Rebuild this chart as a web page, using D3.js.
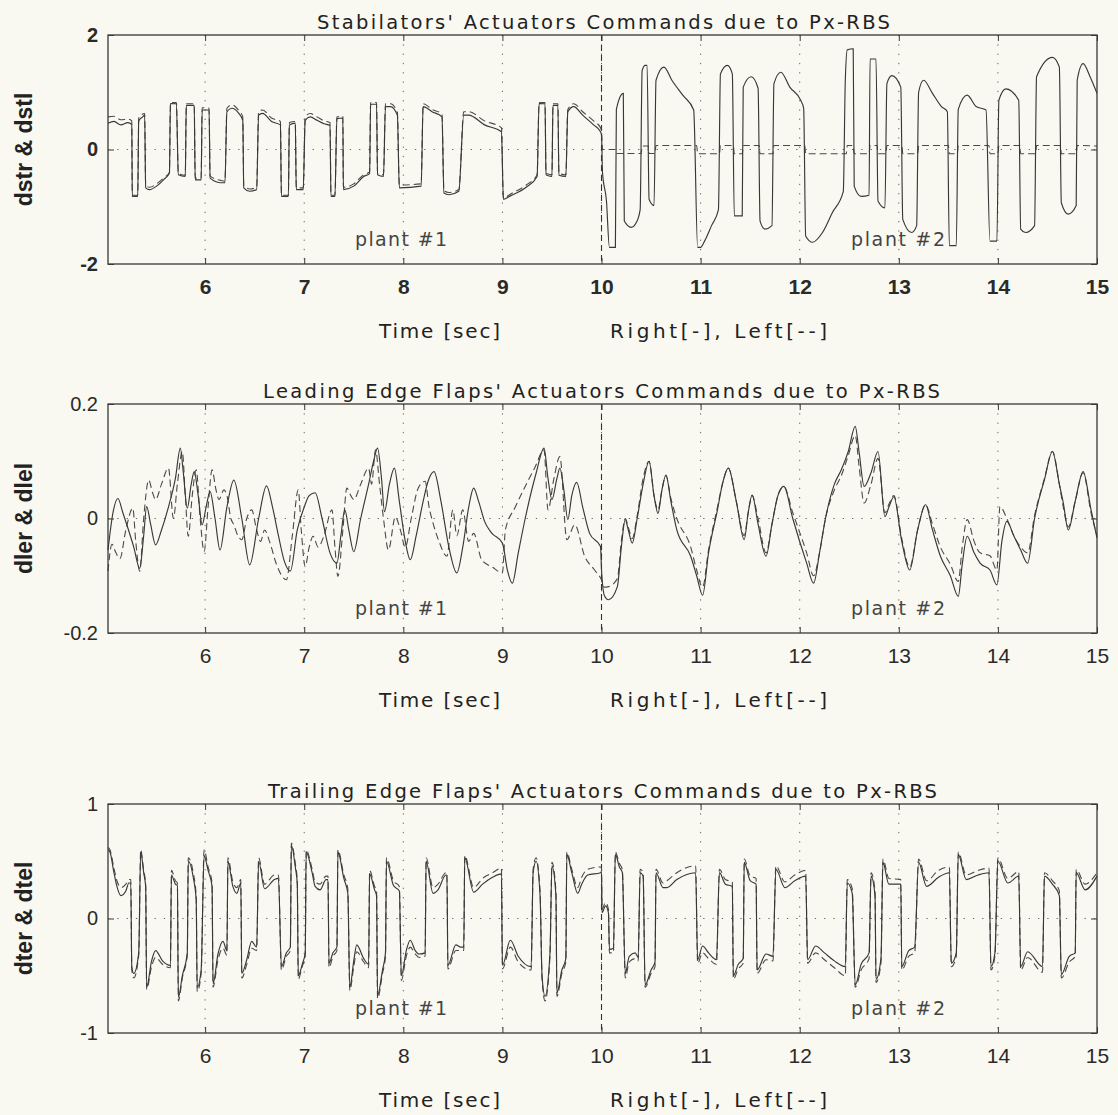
<!DOCTYPE html>
<html><head><meta charset="utf-8">
<script src="https://cdn.jsdelivr.net/npm/d3@7"></script>
<style>body{margin:0;background:#f9f9f1;} svg{display:block}</style>
</head><body>
<svg id="c" width="1118" height="1115"></svg>
<script>
// ---------- text / ticks ----------
const titles = [
  "Stabilators' Actuators Commands due to Px-RBS",
  "Leading Edge Flaps' Actuators Commands due to Px-RBS",
  "Trailing Edge Flaps' Actuators Commands due to Px-RBS"
];
const yLabels = ["dstr & dstl", "dler & dlel", "dter & dtel"];
const xTicks = [6, 7, 8, 9, 10, 11, 12, 13, 14, 15];
const gridTimes = [6, 7, 8, 9, 10, 11, 12, 13, 14];
const stabTicks = [-2, 0, 2];
const stabTickLabels = ["-2", "0", "2"];
const leTicks = [-0.2, 0, 0.2];
const leTickLabels = ["-0.2", "0", "0.2"];
const teTicks = [-1, 0, 1];
const teTickLabels = ["-1", "0", "1"];
const xLabel1 = "Time [sec]";
const xLabel2 = "Right[-], Left[--]";
const plantLabels = ["plant #1", "plant #2"];
const splitTime = 10;

// ---------- series: [time, value] ----------
const stabRight = [[5.02,0.46],[5.08,0.49],[5.15,0.43],[5.22,0.47],[5.26,0.44],[5.265,-0.82],[5.32,-0.82],[5.33,0.5],[5.37,0.57],[5.39,0.6],[5.40,-0.67],[5.44,-0.70],[5.51,-0.64],[5.58,-0.53],[5.64,-0.41],[5.65,0.8],[5.71,0.8],[5.73,-0.44],[5.80,-0.47],[5.81,0.77],[5.89,0.77],[5.90,-0.53],[5.96,-0.53],[5.97,0.69],[6.04,0.69],[6.05,-0.5],[6.16,-0.58],[6.20,-0.58],[6.22,0.66],[6.27,0.72],[6.34,0.63],[6.38,0.51],[6.39,-0.67],[6.45,-0.73],[6.52,-0.70],[6.54,0.60],[6.58,0.63],[6.67,0.49],[6.76,0.43],[6.77,-0.82],[6.84,-0.82],[6.85,0.43],[6.91,0.46],[6.92,-0.70],[6.99,-0.70],[7.01,0.51],[7.06,0.57],[7.13,0.51],[7.20,0.45],[7.26,0.42],[7.27,-0.82],[7.31,-0.82],[7.33,0.54],[7.39,0.55],[7.395,-0.70],[7.50,-0.64],[7.60,-0.47],[7.66,-0.42],[7.67,0.79],[7.73,0.79],[7.74,-0.44],[7.80,-0.47],[7.82,0.75],[7.87,0.75],[7.94,0.60],[7.96,-0.67],[8.18,-0.64],[8.20,0.75],[8.29,0.66],[8.39,0.57],[8.41,-0.76],[8.46,-0.79],[8.56,-0.73],[8.61,0.60],[8.66,0.60],[8.82,0.43],[8.99,0.31],[9.01,-0.87],[9.08,-0.81],[9.24,-0.66],[9.35,-0.47],[9.37,0.80],[9.43,0.80],[9.44,-0.44],[9.50,-0.47],[9.51,0.77],[9.56,0.77],[9.57,-0.45],[9.64,-0.47],[9.66,0.66],[9.72,0.75],[9.81,0.60],[9.92,0.43],[9.99,0.31],
[10.00,0.25],[10.01,-0.4],[10.05,-0.9],[10.08,-1.71],[10.14,-1.71],[10.15,0.7],[10.22,0.98],[10.23,-1.25],[10.30,-1.36],[10.35,-1.28],[10.39,-1.05],[10.41,1.38],[10.44,1.47],[10.46,1.47],[10.48,-0.87],[10.53,-0.98],[10.55,1.21],[10.63,1.44],[10.71,1.21],[10.82,0.95],[10.93,0.69],[10.97,-1.71],[11.00,-1.71],[11.04,-1.6],[11.11,-1.33],[11.18,-1.05],[11.20,1.32],[11.27,1.47],[11.32,1.32],[11.34,-1.16],[11.42,-1.16],[11.43,1.09],[11.51,1.27],[11.58,1.07],[11.60,-1.25],[11.65,-1.39],[11.72,-1.33],[11.74,1.15],[11.81,1.35],[11.90,1.09],[12.01,0.86],[12.04,0.72],[12.06,-1.51],[12.13,-1.62],[12.23,-1.45],[12.33,-1.1],[12.44,-0.73],[12.46,1.2],[12.48,1.74],[12.54,1.76],[12.55,-0.64],[12.62,-0.82],[12.70,-0.80],[12.71,1.58],[12.77,1.58],[12.79,-0.9],[12.86,-1.02],[12.88,1.15],[12.93,1.29],[13.02,1.09],[13.04,-1.22],[13.13,-1.45],[13.18,-1.33],[13.20,1.0],[13.25,1.21],[13.34,0.98],[13.43,0.75],[13.49,0.66],[13.51,-1.68],[13.58,-1.68],[13.60,0.7],[13.69,0.95],[13.78,0.75],[13.88,0.69],[13.92,-1.6],[13.99,-1.6],[14.01,0.86],[14.08,1.06],[14.21,0.86],[14.23,-1.39],[14.28,-1.45],[14.37,-1.33],[14.39,1.27],[14.55,1.61],[14.62,1.44],[14.64,-0.93],[14.71,-1.13],[14.79,-0.98],[14.80,1.21],[14.86,1.5],[14.93,1.27],[15.00,0.98]];

const stabLeft = [[5.02,0.57],[5.08,0.58],[5.15,0.52],[5.22,0.53],[5.26,0.5],[5.265,-0.8],[5.32,-0.8],[5.33,0.55],[5.39,0.63],[5.40,-0.62],[5.44,-0.66],[5.51,-0.6],[5.58,-0.5],[5.64,-0.4],[5.65,0.82],[5.71,0.82],[5.73,-0.42],[5.80,-0.45],[5.81,0.8],[5.89,0.8],[5.90,-0.5],[5.96,-0.5],[5.97,0.73],[6.04,0.72],[6.05,-0.46],[6.16,-0.54],[6.20,-0.55],[6.22,0.72],[6.27,0.78],[6.34,0.68],[6.38,0.57],[6.39,-0.63],[6.45,-0.69],[6.52,-0.66],[6.54,0.66],[6.58,0.69],[6.67,0.55],[6.76,0.49],[6.77,-0.8],[6.84,-0.8],[6.85,0.47],[6.91,0.49],[6.92,-0.67],[6.99,-0.67],[7.01,0.57],[7.06,0.63],[7.13,0.57],[7.20,0.5],[7.26,0.47],[7.27,-0.8],[7.31,-0.8],[7.33,0.57],[7.39,0.58],[7.395,-0.66],[7.50,-0.6],[7.60,-0.44],[7.66,-0.39],[7.67,0.82],[7.73,0.82],[7.74,-0.42],[7.80,-0.44],[7.82,0.8],[7.87,0.8],[7.94,0.65],[7.96,-0.62],[8.18,-0.6],[8.20,0.8],[8.29,0.7],[8.39,0.62],[8.41,-0.72],[8.46,-0.75],[8.56,-0.7],[8.61,0.66],[8.66,0.66],[8.82,0.5],[8.99,0.38],[9.01,-0.85],[9.08,-0.78],[9.24,-0.62],[9.35,-0.44],[9.37,0.82],[9.43,0.82],[9.44,-0.42],[9.50,-0.44],[9.51,0.8],[9.56,0.8],[9.57,-0.42],[9.64,-0.44],[9.66,0.7],[9.72,0.8],[9.81,0.66],[9.92,0.5],[9.99,0.38],
[10.00,0.3],[10.01,0.0],[10.14,0.0],[10.15,-0.07],[10.40,-0.07],[10.41,0.06],[10.47,0.06],[10.48,-0.07],[10.54,-0.07],[10.55,0.07],[10.96,0.07],[10.97,-0.075],[11.19,-0.075],[11.20,0.07],[11.33,0.07],[11.34,-0.075],[11.42,-0.075],[11.43,0.07],[11.59,0.07],[11.60,-0.075],[11.73,-0.075],[11.74,0.07],[12.05,0.07],[12.06,-0.075],[12.47,-0.075],[12.48,0.07],[12.54,0.07],[12.55,-0.075],[12.70,-0.075],[12.71,0.07],[12.78,0.07],[12.79,-0.075],[12.87,-0.075],[12.88,0.07],[13.03,0.07],[13.04,-0.075],[13.19,-0.075],[13.20,0.07],[13.50,0.07],[13.51,-0.075],[13.59,-0.075],[13.60,0.07],[13.91,0.07],[13.92,-0.075],[14.00,-0.075],[14.01,0.07],[14.22,0.07],[14.23,-0.075],[14.38,-0.075],[14.39,0.07],[14.63,0.07],[14.64,-0.075],[14.79,-0.075],[14.80,0.07],[15.00,0.06]];

const leRight = [[5.02,-0.055],[5.07,0.01],[5.12,0.035],[5.17,0.01],[5.21,-0.011],[5.28,-0.05],[5.34,-0.087],[5.38,-0.03],[5.41,0.021],[5.45,-0.01],[5.50,-0.046],[5.56,-0.02],[5.63,0.02],[5.70,0.07],[5.75,0.123],[5.78,0.08],[5.82,0.018],[5.86,0.06],[5.89,0.082],[5.93,0.04],[5.97,-0.011],[6.01,0.02],[6.05,0.047],[6.10,0.0],[6.15,-0.055],[6.22,0.02],[6.29,0.067],[6.37,0.0],[6.45,-0.081],[6.54,0.0],[6.62,0.057],[6.68,0.02],[6.74,-0.03],[6.80,-0.075],[6.86,-0.092],[6.93,-0.02],[7.00,0.02],[7.05,0.04],[7.11,0.045],[7.18,0.0],[7.26,-0.06],[7.33,-0.078],[7.37,-0.03],[7.41,0.015],[7.45,-0.02],[7.50,-0.058],[7.57,0.0],[7.65,0.06],[7.70,0.1],[7.74,0.123],[7.78,0.07],[7.81,0.012],[7.86,0.06],[7.91,0.088],[7.96,0.03],[8.02,-0.04],[8.07,-0.072],[8.13,-0.03],[8.20,0.03],[8.25,0.065],[8.31,0.082],[8.38,0.03],[8.46,-0.05],[8.54,-0.095],[8.60,-0.05],[8.66,0.02],[8.71,0.053],[8.76,0.03],[8.82,-0.005],[8.89,-0.025],[9.0,-0.043],[9.05,-0.09],[9.10,-0.113],[9.16,-0.06],[9.23,0.0],[9.34,0.079],[9.42,0.123],[9.46,0.07],[9.50,0.033],[9.55,0.07],[9.58,0.088],[9.62,0.05],[9.66,-0.002],[9.70,0.04],[9.75,0.063],[9.81,0.02],[9.88,-0.026],[9.99,-0.049],
[10.0,-0.09],[10.03,-0.135],[10.07,-0.142],[10.16,-0.119],[10.20,-0.05],[10.24,-0.002],[10.27,-0.02],[10.31,-0.043],[10.36,0.0],[10.42,0.06],[10.48,0.1],[10.53,0.04],[10.57,0.009],[10.61,0.05],[10.65,0.076],[10.70,0.03],[10.76,-0.02],[10.90,-0.066],[10.96,-0.1],[11.02,-0.134],[11.08,-0.06],[11.17,0.015],[11.22,0.06],[11.28,0.088],[11.36,0.03],[11.44,-0.037],[11.48,0.01],[11.52,0.041],[11.58,-0.01],[11.66,-0.066],[11.72,-0.01],[11.78,0.04],[11.84,0.056],[11.93,0.0],[12.07,-0.078],[12.14,-0.113],[12.20,-0.06],[12.26,0.0],[12.35,0.06],[12.42,0.085],[12.49,0.117],[12.56,0.161],[12.60,0.115],[12.65,0.056],[12.72,0.08],[12.79,0.117],[12.86,0.003],[12.90,0.02],[12.95,0.038],[13.03,-0.04],[13.11,-0.09],[13.19,-0.02],[13.27,0.024],[13.34,-0.02],[13.42,-0.066],[13.52,-0.1],[13.60,-0.136],[13.64,-0.08],[13.69,-0.031],[13.76,-0.06],[13.82,-0.078],[13.92,-0.09],[13.99,-0.116],[14.04,-0.04],[14.09,-0.005],[14.16,-0.03],[14.23,-0.055],[14.30,-0.078],[14.37,0.0],[14.47,0.068],[14.55,0.117],[14.62,0.06],[14.66,0.027],[14.71,-0.02],[14.78,0.03],[14.86,0.082],[14.94,0.015],[15.0,-0.034]];

const leLeft = [[5.02,-0.092],[5.06,-0.045],[5.10,-0.06],[5.14,-0.07],[5.20,-0.02],[5.27,0.018],[5.30,-0.04],[5.34,-0.092],[5.38,0.0],[5.43,0.067],[5.47,0.045],[5.50,0.033],[5.56,0.06],[5.63,0.088],[5.68,0.0],[5.72,0.06],[5.77,0.117],[5.80,0.04],[5.83,-0.031],[5.87,0.04],[5.91,0.085],[5.95,0.0],[5.99,-0.058],[6.03,0.02],[6.07,0.085],[6.11,0.05],[6.14,0.033],[6.19,0.05],[6.22,0.04],[6.26,0.0],[6.29,-0.011],[6.33,-0.03],[6.37,-0.037],[6.42,0.0],[6.47,0.015],[6.52,-0.02],[6.56,-0.04],[6.60,-0.02],[6.65,-0.04],[6.72,-0.08],[6.82,-0.107],[6.88,-0.03],[6.94,0.05],[6.97,-0.02],[7.01,-0.084],[7.05,-0.05],[7.09,-0.031],[7.14,-0.05],[7.20,-0.03],[7.28,0.015],[7.31,-0.05],[7.34,-0.101],[7.39,-0.02],[7.43,0.053],[7.47,0.04],[7.50,0.033],[7.57,0.06],[7.65,0.088],[7.68,0.06],[7.72,0.12],[7.76,0.06],[7.80,0.0],[7.85,-0.055],[7.92,0.003],[7.97,-0.02],[8.02,-0.05],[8.08,0.0],[8.15,0.053],[8.22,0.065],[8.26,0.02],[8.30,-0.008],[8.36,-0.04],[8.44,-0.066],[8.50,0.015],[8.54,-0.03],[8.60,0.015],[8.66,-0.04],[8.71,-0.026],[8.79,-0.072],[8.90,-0.085],[9.0,-0.095],[9.03,-0.02],[9.13,0.02],[9.23,0.056],[9.33,0.09],[9.42,0.12],[9.46,0.015],[9.52,0.07],[9.58,0.108],[9.65,-0.037],[9.73,-0.011],[9.83,-0.066],[9.93,-0.09],[10.0,-0.107],
[10.03,-0.12],[10.07,-0.119],[10.16,-0.105],[10.20,-0.04],[10.24,0.0],[10.27,-0.015],[10.31,-0.035],[10.36,0.005],[10.42,0.07],[10.48,0.1],[10.53,0.04],[10.57,0.015],[10.61,0.05],[10.65,0.075],[10.70,0.035],[10.76,0.0],[10.90,-0.05],[10.96,-0.09],[11.02,-0.12],[11.08,-0.055],[11.17,0.02],[11.22,0.06],[11.28,0.088],[11.36,0.03],[11.44,-0.03],[11.48,0.01],[11.52,0.04],[11.58,0.0],[11.66,-0.06],[11.72,-0.01],[11.78,0.04],[11.84,0.056],[11.93,0.01],[12.07,-0.06],[12.14,-0.1],[12.20,-0.06],[12.26,0.0],[12.35,0.05],[12.42,0.075],[12.49,0.11],[12.56,0.145],[12.60,0.09],[12.65,0.027],[12.72,0.06],[12.79,0.105],[12.86,0.01],[12.90,0.025],[12.95,0.04],[13.03,-0.035],[13.11,-0.085],[13.19,-0.02],[13.27,0.024],[13.34,-0.01],[13.42,-0.05],[13.52,-0.08],[13.60,-0.11],[13.64,-0.05],[13.69,-0.002],[13.76,-0.04],[13.82,-0.06],[13.92,-0.065],[13.99,-0.09],[14.02,0.021],[14.09,0.0],[14.16,-0.03],[14.23,-0.05],[14.30,-0.06],[14.37,0.005],[14.47,0.07],[14.55,0.117],[14.62,0.06],[14.66,0.02],[14.71,-0.015],[14.78,0.03],[14.86,0.08],[14.94,0.01],[15.0,-0.03]];

const teRight = [[5.02,0.6],[5.04,0.58],[5.08,0.4],[5.11,0.28],[5.15,0.2],[5.20,0.24],[5.23,0.31],[5.25,0.31],[5.26,-0.42],[5.28,-0.48],[5.33,-0.3],[5.35,0.58],[5.38,0.4],[5.40,0.28],[5.41,-0.6],[5.46,-0.37],[5.50,-0.28],[5.57,-0.37],[5.65,-0.41],[5.66,0.38],[5.70,0.3],[5.72,0.29],[5.73,-0.69],[5.77,-0.5],[5.82,-0.3],[5.83,0.5],[5.88,0.36],[5.91,0.16],[5.92,-0.6],[5.96,-0.45],[5.99,0.55],[6.03,0.42],[6.07,0.28],[6.08,-0.57],[6.13,-0.31],[6.18,-0.2],[6.22,-0.28],[6.23,0.5],[6.28,0.28],[6.32,0.22],[6.36,0.31],[6.37,-0.48],[6.42,-0.36],[6.47,-0.2],[6.52,-0.25],[6.54,0.5],[6.60,0.26],[6.70,0.34],[6.74,0.35],[6.77,-0.42],[6.82,-0.3],[6.86,-0.25],[6.87,0.64],[6.91,0.45],[6.93,0.3],[6.94,-0.5],[6.98,-0.4],[7.01,-0.3],[7.02,0.58],[7.08,0.4],[7.11,0.28],[7.16,0.25],[7.22,0.34],[7.24,0.34],[7.25,-0.39],[7.29,-0.3],[7.33,-0.25],[7.34,0.58],[7.40,0.35],[7.44,0.22],[7.46,-0.6],[7.50,-0.37],[7.53,-0.23],[7.60,-0.35],[7.65,-0.4],[7.66,0.39],[7.71,0.25],[7.73,0.2],[7.74,-0.67],[7.79,-0.45],[7.82,-0.3],[7.83,0.5],[7.90,0.29],[7.96,0.24],[7.98,-0.5],[8.03,-0.28],[8.07,-0.19],[8.12,-0.28],[8.16,-0.31],[8.22,-0.3],[8.23,0.5],[8.30,0.22],[8.35,0.25],[8.43,0.38],[8.44,0.38],[8.45,-0.41],[8.53,-0.23],[8.58,-0.25],[8.61,-0.25],[8.62,0.53],[8.71,0.23],[8.80,0.3],[8.90,0.36],[8.99,0.39],[9.0,-0.41],[9.08,-0.19],[9.16,-0.33],[9.29,-0.42],[9.31,0.4],[9.34,0.5],[9.38,0.2],[9.40,-0.5],[9.43,-0.68],[9.48,-0.3],[9.50,0.46],[9.54,0.2],[9.55,-0.65],[9.60,-0.45],[9.64,-0.35],[9.65,0.56],[9.70,0.4],[9.76,0.22],[9.80,0.3],[9.86,0.38],[9.99,0.4],
[10.0,0.41],[10.005,0.05],[10.04,0.11],[10.07,0.05],[10.08,-0.27],[10.12,-0.26],[10.14,0.56],[10.18,0.45],[10.21,0.4],[10.24,-0.48],[10.28,-0.33],[10.34,-0.3],[10.37,-0.34],[10.39,0.4],[10.42,0.37],[10.44,-0.58],[10.50,-0.45],[10.54,-0.38],[10.55,0.4],[10.62,0.27],[10.66,0.27],[10.76,0.34],[10.95,0.4],[10.97,-0.36],[11.02,-0.24],[11.08,-0.3],[11.16,-0.36],[11.19,0.4],[11.25,0.3],[11.32,0.28],[11.33,-0.5],[11.38,-0.4],[11.43,-0.35],[11.44,0.49],[11.50,0.33],[11.56,0.3],[11.57,-0.45],[11.66,-0.31],[11.73,-0.33],[11.76,0.43],[11.85,0.27],[11.95,0.33],[12.06,0.37],[12.08,-0.36],[12.16,-0.24],[12.25,-0.3],[12.35,-0.37],[12.46,-0.42],[12.48,0.31],[12.53,0.22],[12.56,-0.58],[12.62,-0.4],[12.70,-0.3],[12.72,0.37],[12.76,0.2],[12.77,-0.53],[12.82,-0.35],[12.84,0.49],[12.90,0.3],[13.02,0.3],[13.03,-0.42],[13.10,-0.28],[13.16,-0.25],[13.20,0.49],[13.28,0.28],[13.40,0.36],[13.51,0.4],[13.53,-0.39],[13.58,-0.3],[13.60,0.56],[13.68,0.34],[13.80,0.38],[13.91,0.4],[13.93,-0.42],[13.97,-0.3],[14.0,0.5],[14.10,0.31],[14.21,0.37],[14.23,-0.42],[14.30,-0.29],[14.45,-0.42],[14.47,0.37],[14.55,0.3],[14.62,0.2],[14.64,-0.49],[14.72,-0.33],[14.78,-0.3],[14.79,0.4],[14.88,0.25],[15.0,0.37]];

const teLeft = [[5.02,0.62],[5.04,0.6],[5.08,0.44],[5.11,0.33],[5.15,0.27],[5.20,0.3],[5.23,0.34],[5.25,0.34],[5.26,-0.45],[5.28,-0.52],[5.33,-0.32],[5.35,0.6],[5.38,0.42],[5.40,0.3],[5.41,-0.62],[5.46,-0.42],[5.50,-0.34],[5.57,-0.4],[5.65,-0.43],[5.66,0.42],[5.70,0.33],[5.72,0.31],[5.73,-0.72],[5.77,-0.52],[5.82,-0.32],[5.83,0.53],[5.88,0.4],[5.91,0.2],[5.92,-0.64],[5.96,-0.48],[5.99,0.6],[6.03,0.45],[6.07,0.31],[6.08,-0.6],[6.13,-0.36],[6.18,-0.26],[6.22,-0.32],[6.23,0.53],[6.28,0.32],[6.32,0.27],[6.36,0.34],[6.37,-0.52],[6.42,-0.4],[6.47,-0.26],[6.52,-0.28],[6.54,0.53],[6.60,0.3],[6.70,0.38],[6.74,0.38],[6.77,-0.45],[6.82,-0.33],[6.86,-0.28],[6.87,0.66],[6.91,0.48],[6.93,0.33],[6.94,-0.53],[6.98,-0.42],[7.01,-0.33],[7.02,0.6],[7.08,0.43],[7.11,0.32],[7.16,0.3],[7.22,0.37],[7.24,0.37],[7.25,-0.43],[7.29,-0.33],[7.33,-0.28],[7.34,0.6],[7.40,0.38],[7.44,0.26],[7.46,-0.63],[7.50,-0.42],[7.53,-0.29],[7.60,-0.38],[7.65,-0.43],[7.66,0.42],[7.71,0.28],[7.73,0.24],[7.74,-0.7],[7.79,-0.48],[7.82,-0.33],[7.83,0.53],[7.90,0.33],[7.96,0.28],[7.98,-0.54],[8.03,-0.33],[8.07,-0.25],[8.12,-0.31],[8.16,-0.34],[8.22,-0.33],[8.23,0.53],[8.30,0.27],[8.35,0.3],[8.43,0.4],[8.44,0.4],[8.45,-0.44],[8.53,-0.28],[8.58,-0.28],[8.61,-0.28],[8.62,0.55],[8.71,0.27],[8.80,0.35],[8.90,0.4],[8.99,0.44],[9.0,-0.44],[9.08,-0.25],[9.16,-0.38],[9.29,-0.45],[9.31,0.43],[9.34,0.53],[9.38,0.24],[9.40,-0.53],[9.43,-0.72],[9.48,-0.33],[9.50,0.49],[9.54,0.24],[9.55,-0.68],[9.60,-0.48],[9.64,-0.38],[9.65,0.58],[9.70,0.43],[9.76,0.27],[9.80,0.36],[9.86,0.43],[9.99,0.45],
[10.0,0.44],[10.005,0.08],[10.04,0.14],[10.07,0.08],[10.08,-0.3],[10.12,-0.3],[10.14,0.58],[10.18,0.48],[10.21,0.43],[10.24,-0.52],[10.28,-0.38],[10.34,-0.35],[10.37,-0.37],[10.39,0.43],[10.42,0.4],[10.44,-0.6],[10.50,-0.48],[10.54,-0.42],[10.55,0.43],[10.62,0.31],[10.66,0.33],[10.76,0.4],[10.95,0.46],[10.97,-0.39],[11.02,-0.3],[11.08,-0.35],[11.16,-0.4],[11.19,0.43],[11.25,0.34],[11.32,0.32],[11.33,-0.53],[11.38,-0.44],[11.43,-0.39],[11.44,0.52],[11.50,0.37],[11.56,0.35],[11.57,-0.48],[11.66,-0.36],[11.73,-0.37],[11.76,0.46],[11.85,0.32],[11.95,0.38],[12.06,0.42],[12.08,-0.39],[12.16,-0.3],[12.25,-0.36],[12.35,-0.43],[12.46,-0.5],[12.48,0.34],[12.53,0.26],[12.56,-0.6],[12.62,-0.45],[12.70,-0.35],[12.72,0.4],[12.76,0.24],[12.77,-0.56],[12.82,-0.39],[12.84,0.52],[12.90,0.35],[13.02,0.34],[13.03,-0.45],[13.10,-0.33],[13.16,-0.3],[13.20,0.52],[13.28,0.33],[13.40,0.42],[13.51,0.45],[13.53,-0.42],[13.58,-0.33],[13.60,0.58],[13.68,0.38],[13.80,0.42],[13.91,0.44],[13.93,-0.45],[13.97,-0.33],[14.0,0.53],[14.10,0.35],[14.21,0.41],[14.23,-0.45],[14.30,-0.34],[14.45,-0.47],[14.47,0.4],[14.55,0.33],[14.62,0.24],[14.64,-0.52],[14.72,-0.38],[14.78,-0.33],[14.79,0.43],[14.88,0.3],[15.0,0.4]];

// ---------- drawing ----------
const W = 1118, H = 1115;
const BG = "#f9f9f1", INK = "#383838";
const svg = d3.select("#c");
svg.append("rect").attr("width", W).attr("height", H).attr("fill", BG);

const x = d3.scaleLinear().domain([5.02, 15]).range([108, 1097]);
const panelH = 229;
const panels = [
  {top: 35,  dom: [-2, 2],     ticks: stabTicks, labels: stabTickLabels, right: stabRight, left: stabLeft, title: titles[0], tx: [317, 890], ylab: yLabels[0], bold: true},
  {top: 404, dom: [-0.2, 0.2], ticks: leTicks,   labels: leTickLabels,   right: leRight,   left: leLeft,   title: titles[1], tx: [263, 940], ylab: yLabels[1], bold: false},
  {top: 804, dom: [-1, 1],     ticks: teTicks,   labels: teTickLabels,   right: teRight,   left: teLeft,   title: titles[2], tx: [268, 937], ylab: yLabels[2], bold: false}
];

const sans = "'Liberation Sans', Arial, sans-serif";
const geo = "'DejaVu Sans', sans-serif";

panels.forEach(p => {
  const bottom = p.top + panelH;
  const y = d3.scaleLinear().domain(p.dom).range([bottom, p.top]);
  const g = svg.append("g");

  // grid (dotted)
  g.selectAll("line.vg").data(gridTimes).join("line")
    .attr("x1", d => x(d)).attr("x2", d => x(d))
    .attr("y1", p.top).attr("y2", bottom)
    .attr("stroke", "#666").attr("stroke-width", 1).attr("stroke-dasharray", "1.3,8");
  g.append("line").attr("x1", x.range()[0]).attr("x2", x.range()[1])
    .attr("y1", y(0)).attr("y2", y(0))
    .attr("stroke", "#666").attr("stroke-width", 1).attr("stroke-dasharray", "1.3,8");

  // plant separator
  g.append("line").attr("x1", x(splitTime)).attr("x2", x(splitTime))
    .attr("y1", p.top).attr("y2", bottom)
    .attr("stroke", "#333").attr("stroke-width", 1.1).attr("stroke-dasharray", "6,4");

  // series
  const line = d3.line().x(d => x(d[0])).y(d => y(d[1])).curve(d3.curveMonotoneX);
  g.append("path").datum(p.left).attr("d", line).attr("fill", "none")
    .attr("stroke", "#4a4a4a").attr("stroke-width", 1.1).attr("stroke-dasharray", "7,4");
  g.append("path").datum(p.right).attr("d", line).attr("fill", "none")
    .attr("stroke", INK).attr("stroke-width", 1.15);

  // axes
  const fmt = v => p.labels[p.ticks.indexOf(v)];
  const ax = g.append("g").attr("transform", `translate(${x.range()[0]},0)`)
    .call(d3.axisLeft(y).tickValues(p.ticks).tickSize(-6).tickPadding(10).tickFormat(fmt));
  ax.selectAll("text").attr("font-family", sans).attr("font-size", 20)
    .attr("font-weight", p.bold ? "bold" : "normal").attr("fill", "#2a2a2a");
  g.append("g").attr("transform", `translate(${x.range()[1]},0)`)
    .call(d3.axisRight(y).tickValues(p.ticks).tickSize(-6).tickFormat(""));
  const bx = g.append("g").attr("transform", `translate(0,${bottom})`)
    .call(d3.axisBottom(x).tickValues(xTicks).tickSize(-6).tickPadding(15).tickFormat(d3.format("d")));
  bx.selectAll("text").attr("font-family", sans).attr("font-size", 21).attr("fill", "#2a2a2a")
    .attr("font-weight", p.bold ? "bold" : "normal");
  g.append("g").attr("transform", `translate(0,${p.top})`)
    .call(d3.axisTop(x).tickValues(xTicks).tickSize(-6).tickFormat(""));
  g.selectAll(".domain").remove();
  g.selectAll(".tick line").attr("stroke", INK);

  // frame
  g.append("rect").attr("x", x.range()[0]).attr("y", p.top)
    .attr("width", x.range()[1] - x.range()[0]).attr("height", panelH)
    .attr("fill", "none").attr("stroke", INK).attr("stroke-width", 1.3);

  // title
  g.append("text").attr("x", p.tx[0]).attr("y", p.top - 6)
    .attr("font-family", geo).attr("font-size", 19.5).attr("fill", "#222")
    .attr("textLength", p.tx[1] - p.tx[0]).attr("lengthAdjust", "spacing")
    .text(p.title);

  // y label
  g.append("text").attr("transform", `translate(32,${p.top + panelH / 2}) rotate(-90)`)
    .attr("text-anchor", "middle").attr("font-family", sans).attr("font-weight", "bold")
    .attr("font-size", 23).attr("fill", "#222")
    .text(p.ylab);

  // x labels
  g.append("text").attr("x", 379).attr("y", bottom + 74)
    .attr("font-family", geo).attr("font-size", 20).attr("fill", "#222")
    .attr("textLength", 121).attr("lengthAdjust", "spacing").text(xLabel1);
  g.append("text").attr("x", 610).attr("y", bottom + 74)
    .attr("font-family", geo).attr("font-size", 20).attr("fill", "#222")
    .attr("textLength", 217).attr("lengthAdjust", "spacing").text(xLabel2);

  // plant labels
  g.append("text").attr("x", 355).attr("y", bottom - 18)
    .attr("font-family", geo).attr("font-size", 19).attr("fill", "#444")
    .attr("textLength", 92).attr("lengthAdjust", "spacing").text(plantLabels[0]);
  g.append("text").attr("x", 851).attr("y", bottom - 18)
    .attr("font-family", geo).attr("font-size", 19).attr("fill", "#444")
    .attr("textLength", 94).attr("lengthAdjust", "spacing").text(plantLabels[1]);
});
</script>
</body></html>
